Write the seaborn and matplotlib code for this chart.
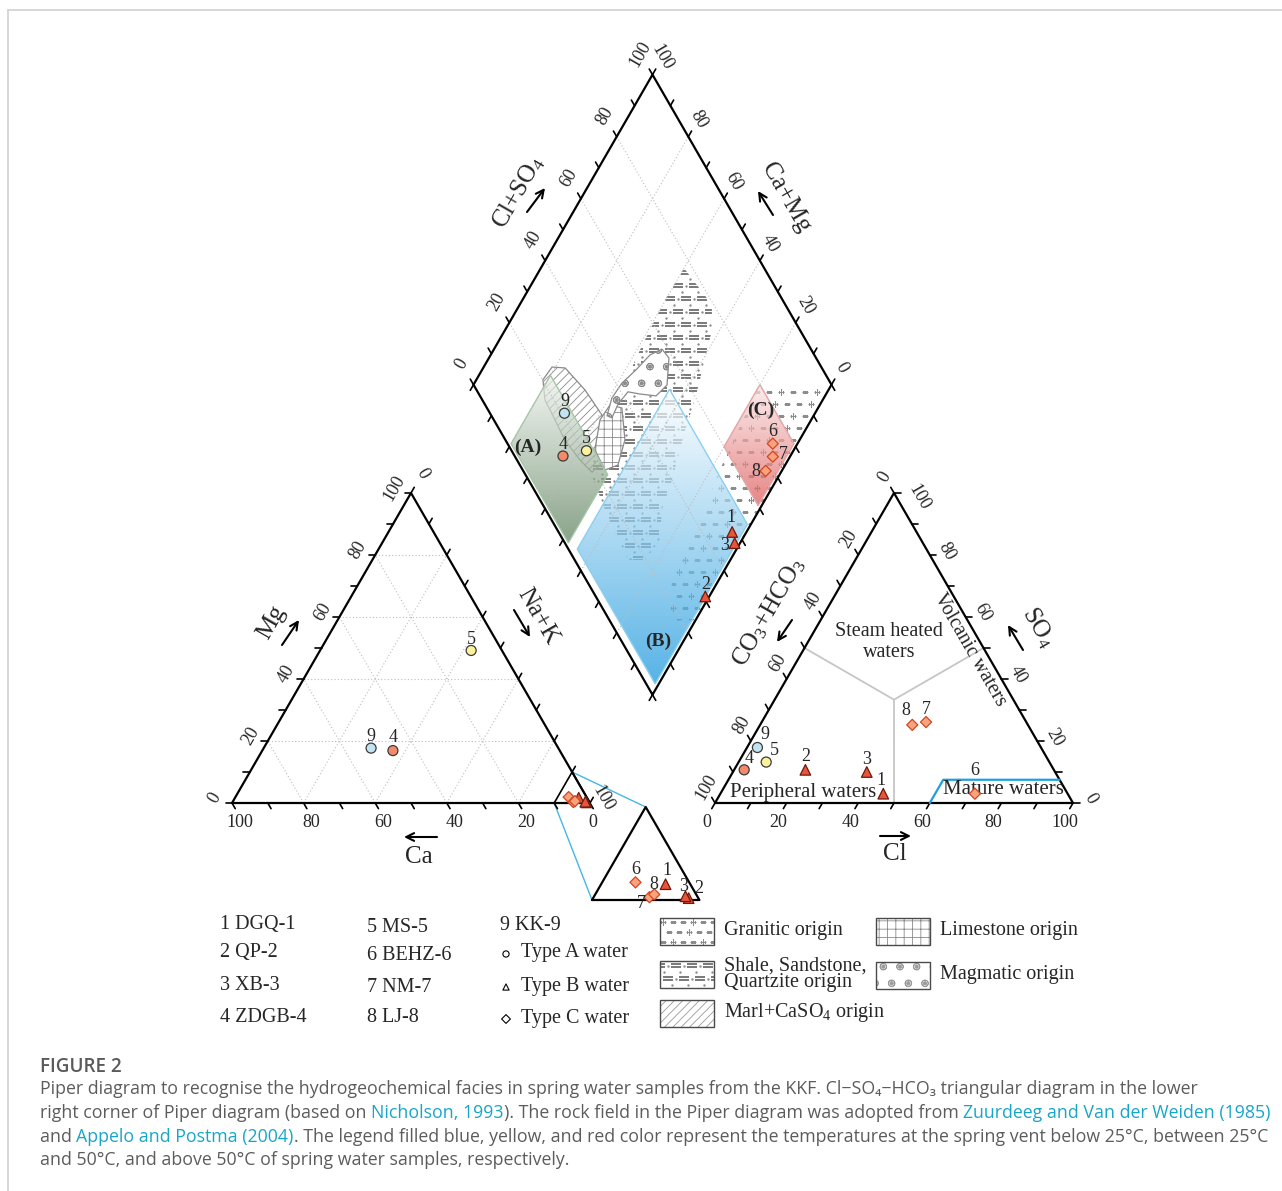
import numpy as np
import pandas as pd
import matplotlib
matplotlib.use("Agg")
import matplotlib.pyplot as plt
from matplotlib.patches import Polygon
from matplotlib.colors import LinearSegmentedColormap
import seaborn as sns

sns.set_theme(style="white")
SERIF = ["Liberation Serif", "DejaVu Serif"]
SANS = ["Open Sans", "DejaVu Sans"]
plt.rcParams["font.family"] = SERIF
plt.rcParams["mathtext.fontset"] = "custom"
plt.rcParams["mathtext.rm"] = "Liberation Serif"
plt.rcParams["mathtext.it"] = "Liberation Serif:italic"
plt.rcParams["mathtext.bf"] = "Liberation Serif:bold"
plt.rcParams["hatch.linewidth"] = 0.6

# ---------------- spring water samples (meq %) ----------------
sample_no = [1, 2, 3, 4, 5, 6, 7, 8, 9]
sample_name = ["DGQ-1", "QP-2", "XB-3", "ZDGB-4", "MS-5", "BEHZ-6", "NM-7", "LJ-8", "KK-9"]
water_type = ["B", "B", "B", "A", "A", "C", "C", "C", "A"]
vent_temp = ["above 50", "above 50", "above 50", "above 50", "25-50",
             "above 50", "above 50", "above 50", "below 25"]
ca_pct = [2.3, 0.9, 1.1, 46.6, 8.6, 5.0, 4.5, 3.9, 52.3]
mg_pct = [1.7, 0.2, 0.4, 16.9, 49.2, 1.9, 0.3, 0.6, 17.7]
cl_pct = [45.5, 19.9, 37.4, 2.8, 7.7, 71.1, 45.9, 42.5, 2.9]
so4_pct = [3.0, 10.7, 10.0, 10.7, 13.2, 3.0, 26.1, 25.2, 17.9]

tick_values = [0, 20, 40, 60, 80, 100]
grid_values = [20, 40, 60, 80]

df = pd.DataFrame({"no": sample_no, "name": sample_name, "wtype": water_type,
                   "temp": vent_temp, "Ca": ca_pct, "Mg": mg_pct,
                   "Cl": cl_pct, "SO4": so4_pct})
df["NaK"] = 100 - df["Ca"] - df["Mg"]
df["HCO3"] = 100 - df["Cl"] - df["SO4"]
df["CaMg"] = df["Ca"] + df["Mg"]
df["ClSO4"] = df["Cl"] + df["SO4"]

# ---------------- canvas: one axes, one unit per pixel ----------------
fig = plt.figure(figsize=(12.82, 11.91), dpi=100)
ax = fig.add_axes([0, 0, 1, 1])
ax.set_xlim(0, 1282)
ax.set_ylim(1191, 0)
ax.axis("off")
renderer = fig.canvas.get_renderer()

# ---------------- Piper geometry ----------------
S = 358.0
H = S * np.sqrt(3) / 2
X0, Y0 = 232.0, 803.0
GAP = 125.0
X1 = X0 + S + GAP
XB, YB = X0 + S + GAP / 2, Y0 - GAP / 2 * np.sqrt(3)
INSET_X, INSET_Y, ZOOM = 592.0, 900.0, 3.0


def cat_xy(ca, mg):
    ca = np.asarray(ca, float); mg = np.asarray(mg, float)
    na = 100 - ca - mg
    return X0 + (na + mg / 2) / 100 * S, Y0 - mg / 100 * H


def an_xy(cl, so4):
    cl = np.asarray(cl, float); so4 = np.asarray(so4, float)
    return X1 + (cl + so4 / 2) / 100 * S, Y0 - so4 / 100 * H


def dia_xy(camg, clso4):
    camg = np.asarray(camg, float); clso4 = np.asarray(clso4, float)
    return XB + (clso4 - camg) / 100 * S / 2, YB - (camg + clso4) / 100 * H


def inset_xy(ca, mg):
    ca = np.asarray(ca, float); mg = np.asarray(mg, float)
    na = 100 - ca - mg
    return (INSET_X + ZOOM * (na - 90 + mg / 2) / 100 * S,
            INSET_Y - ZOOM * mg / 100 * H)


def pts(f, pairs):
    return np.array([f(a, b) for a, b in pairs], float)


df["cx"], df["cy"] = cat_xy(df["Ca"], df["Mg"])
df["ax_"], df["ay"] = an_xy(df["Cl"], df["SO4"])
df["dx"], df["dy"] = dia_xy(df["CaMg"], df["ClSO4"])
df["ix"], df["iy"] = inset_xy(df["Ca"], df["Mg"])

LINE = dict(color="black", lw=1.6, zorder=4, solid_capstyle="round")
GRID = dict(color="#bdbdbd", lw=0.8, ls=(0, (1, 2)), zorder=3)

# ---------------- rock-field patterns and facies fields (diamond) ----------------
shale_field = [(60.0, 77.6), (46.3, 79.5), (42.2, 75.4), (35.7, 59.4), (33.6, 51.8),
               (29.2, 40.1), (27.2, 32.5), (22.9, 27.0), (23.8, 19.7), (28.6, 14.9),
               (43.0, 16.5), (53.7, 18.8), (55.8, 26.4), (57.4, 37.6), (59.1, 52.1),
               (60.2, 67.1)]
magmatic_field = [(59.2, 36.5), (58.8, 41.7), (57.0, 47.8), (55.5, 54.1), (53.1, 58.4),
                  (49.7, 58.9), (45.9, 54.0), (47.2, 49.2), (52.0, 45.0), (55.7, 42.0),
                  (56.5, 37.3), (56.0, 33.3), (57.7, 32.3)]
marl_field = [(81.4, 20.2), (80.9, 24.8), (77.1, 28.3), (68.0, 30.3), (59.2, 31.0),
              (54.9, 27.3), (51.7, 22.4), (52.8, 19.0), (58.1, 17.6), (65.5, 16.6),
              (71.6, 17.1), (77.6, 17.5)]
limestone_field = [(59.0, 29.7), (58.6, 34.9), (54.8, 37.7), (48.8, 33.4), (46.7, 27.4),
                   (49.5, 23.0), (55.6, 23.4)]
granitic_field = [(0, 24), (7, 17), (14, 25), (15, 40), (18, 59), (20, 79), (1, 98), (0, 98)]
field_A = [(80, 1), (80, 23), (48, 23), (48, 1)]
field_B = [(1, 2.5), (44.5, 2.5), (44.5, 54), (1, 54)]
field_C = [(1, 60), (20, 60), (20, 80), (1, 80)]


def clip_polygon(xy, z, face="none", edge="none", lw=0.0, hatch=None):
    p = Polygon(xy, closed=True, facecolor=face, edgecolor=edge, lw=lw, zorder=z, hatch=hatch)
    ax.add_patch(p)
    return p


def shale_pattern(xy, z):
    clip = clip_polygon(xy, z)
    x0, y0 = xy.min(0); x1, y1 = xy.max(0)
    for i, y in enumerate(np.arange(y0 + 3, y1, 13.0)):
        xs = np.arange(x0 + (i % 2) * 8, x1 + 8, 16.0)
        for dy in (0.0, 3.0):
            sc = ax.scatter(xs, np.full(xs.shape, y + dy), marker="_", s=42,
                            color="#7c7c7c", linewidths=1.2, zorder=z)
            sc.set_clip_path(clip)
        for xx, yy in ((xs + 8, y + 1.5), (xs + 4, y + 8)):
            sc = ax.scatter(xx, np.full(xs.shape, yy), marker=".", s=2,
                            color="#8a8a8a", zorder=z)
            sc.set_clip_path(clip)


def granite_pattern(xy, z, step=12.0):
    clip = clip_polygon(xy, z)
    x0, y0 = xy.min(0); x1, y1 = xy.max(0)
    for i, y in enumerate(np.arange(y0 + 4, y1, step)):
        xs = np.arange(x0 + 3 + (i % 2) * 6, x1, step)
        plus = (np.arange(xs.size) + i) % 3 == 0
        for mk, sel in (("+", plus), ("_", ~plus)):
            if sel.any():
                sc = ax.scatter(xs[sel], np.full(sel.sum(), y), marker=mk, s=24,
                                color="#8c8c8c", linewidths=0.8, zorder=z)
                sc.set_clip_path(clip)


def gradient_region(xy, top, bottom, edge, z=2.0, alpha=0.72):
    clip = clip_polygon(xy, z)
    cmap = LinearSegmentedColormap.from_list("field", [top, bottom])
    grad = np.linspace(0, 1, 256)[:, None]
    im = ax.imshow(grad, cmap=cmap, origin="upper", aspect="auto", alpha=alpha,
                   extent=(xy[:, 0].min(), xy[:, 0].max(), xy[:, 1].max(), xy[:, 1].min()),
                   zorder=z, interpolation="bilinear")
    im.set_clip_path(clip)
    ax.add_patch(Polygon(xy, closed=True, facecolor="none", edgecolor=edge, lw=1.0, zorder=z + 0.5))


shale_pattern(pts(dia_xy, shale_field), 1.0)
granite_pattern(pts(dia_xy, granitic_field), 1.0)
clip_polygon(pts(dia_xy, marl_field), 1.4, face="none", edge="#8a8a8a", lw=0.9, hatch="////")
clip_polygon(pts(dia_xy, limestone_field), 1.5, face="white", edge="#8a8a8a", lw=0.9, hatch="++")
clip_polygon(pts(dia_xy, magmatic_field), 1.6, face="white", edge="#8a8a8a", lw=0.9, hatch="o.")

gradient_region(pts(dia_xy, field_A), "#eef3ee", "#5b7e5b", "#a4c8a4")
gradient_region(pts(dia_xy, field_B), "#ffffff", "#1595dd", "#8ccff0")
gradient_region(pts(dia_xy, field_C), "#fbe6e6", "#dc5656", "#f0a0a0")

# ---------------- grids ----------------
for v in grid_values:
    for a, b in (((100 - v, v), (0, v)), ((v, 0), (v, 100 - v)), ((100 - v, 0), (0, 100 - v))):
        p = pts(cat_xy, [a, b]); ax.plot(p[:, 0], p[:, 1], **GRID)
    for a, b in (((v, 0), (v, 100)), ((0, v), (100, v))):
        p = pts(dia_xy, [a, b]); ax.plot(p[:, 0], p[:, 1], **GRID)

# ---------------- outlines ----------------
for f, corners in ((cat_xy, [(100, 0), (0, 0), (0, 100), (100, 0)]),
                   (an_xy, [(0, 0), (100, 0), (0, 100), (0, 0)]),
                   (dia_xy, [(0, 0), (100, 0), (100, 100), (0, 100), (0, 0)])):
    p = pts(f, corners)
    ax.plot(p[:, 0], p[:, 1], **LINE)


def axis_edge(p_from, p_to, outward, labels, rot, dist, shift=(0, 0), tick=6.5, extra=None):
    p_from = np.asarray(p_from, float); p_to = np.asarray(p_to, float)
    d = np.asarray(outward, float); d = d / np.linalg.norm(d)
    extra = extra or {}
    for v in range(0, 101, 10):
        p = p_from + (p_to - p_from) * v / 100
        ax.plot([p[0], p[0] + d[0] * tick], [p[1], p[1] + d[1] * tick],
                color="black", lw=1.2, zorder=4)
    for v in labels:
        p = (p_from + (p_to - p_from) * v / 100 + d * dist + np.asarray(shift)
             + np.asarray(extra.get(v, (0, 0))))
        ax.text(p[0], p[1], str(v), rotation=rot, rotation_mode="anchor",
                ha="center", va="center", fontsize=13, zorder=5)


UP_L, UP_R = (-0.5, -0.866), (0.5, -0.866)
DN_L, DN_R = (-0.5, 0.866), (0.5, 0.866)
# cation triangle
axis_edge(cat_xy(0, 0), cat_xy(100, 0), DN_R, tick_values, 0, 23, (-3.5, 0), extra={0: (-5, 0)})
axis_edge(cat_xy(100, 0), cat_xy(0, 100), (-1, 0), tick_values, 60, 17, (0, -5))
axis_edge(cat_xy(0, 100), cat_xy(0, 0), UP_R, [0, 100], -60, 22, extra={100: (2, 14)})
# anion triangle
axis_edge(an_xy(0, 0), an_xy(100, 0), DN_L, tick_values, 0, 23, (3.5, 0))
axis_edge(an_xy(100, 0), an_xy(0, 100), (1, 0), tick_values, -60, 17, (0, -4), extra={100: (8, 8)})
axis_edge(an_xy(0, 100), an_xy(0, 0), UP_L, tick_values, 60, 18)
# diamond
axis_edge(dia_xy(100, 0), dia_xy(100, 100), UP_L, tick_values, 60, 24)
axis_edge(dia_xy(0, 100), dia_xy(100, 100), UP_R, tick_values, -60, 20)
axis_edge(dia_xy(0, 0), dia_xy(100, 0), DN_L, [], 0, 0)
axis_edge(dia_xy(0, 0), dia_xy(0, 100), DN_R, [], 0, 0)

# ---------------- Giggenbach fields in the anion triangle ----------------
centre = an_xy(100 / 3, 100 / 3)
for end in ((0, 50), (50, 50), (50, 0)):
    e = an_xy(*end)
    ax.plot([centre[0], e[0]], [centre[1], e[1]], color="#c6c6c6", lw=1.3, zorder=3)
mature = pts(an_xy, [(60, 0), (60, 7.5), (92.5, 7.5)])
ax.plot(mature[:, 0], mature[:, 1], color="#1f9fe0", lw=1.6, zorder=4)
ax.text(889, 642, "Steam heated\nwaters", ha="center", va="center", fontsize=14.5,
        linespacing=1.15, zorder=5)
ax.text(970, 650, "Volcanic waters", ha="center", va="center", fontsize=14.5,
        rotation=-60, rotation_mode="anchor", zorder=5)
ax.text(803, 793, "Peripheral waters", ha="center", va="center", fontsize=15, zorder=5)
ax.text(1003, 789, "Mature waters", ha="center", va="center", fontsize=15, zorder=5)

# ---------------- magnified Na+K corner ----------------
small = pts(cat_xy, [(10, 0), (0, 10), (0, 0)])
ax.plot(small[:, 0], small[:, 1], color="black", lw=1.2, zorder=4)
big = pts(inset_xy, [(10, 0), (0, 0), (0, 10), (10, 0)])
ax.plot(big[:, 0], big[:, 1], **LINE)
for a, b in ((small[1], big[2]), (small[0], big[0])):
    ax.plot([a[0], b[0]], [a[1], b[1]], color="#45b6e8", lw=1.0, zorder=3)

# ---------------- field labels ----------------
for txt, (x, y) in (("(A)", (528, 447)), ("(B)", (658, 641)), ("(C)", (761, 410))):
    ax.text(x, y, txt, fontsize=14, fontweight="bold", ha="center", va="center", zorder=5)

# ---------------- axis names ----------------
AXNAME = dict(fontsize=18, ha="center", va="center", rotation_mode="anchor", zorder=5)
ax.text(419, 857, "Ca", **AXNAME)
ax.text(271, 622, "Mg", rotation=60, **AXNAME)
ax.text(538, 617, "Na+K", rotation=-60, **AXNAME)
ax.text(518, 192, "Cl+SO$_4$", rotation=60, **AXNAME)
ax.text(786, 198, "Ca+Mg", rotation=-60, **AXNAME)
ax.text(769, 612, "CO$_3$+HCO$_3$", rotation=60, **AXNAME)
ax.text(1038, 627, "SO$_4$", rotation=-60, **AXNAME)
ax.text(895, 854, "Cl", **AXNAME)
for tail, head in (((437, 837), (404, 837)), ((282, 645), (299, 620)), ((514, 610), (530, 637)),
                   ((527, 212), (545, 188)), ((773, 215), (758, 191)), ((792, 620), (777, 642)),
                   ((1023, 650), (1008, 625)), ((880, 836), (911, 836))):
    ax.annotate("", xy=head, xytext=tail, zorder=5,
                arrowprops=dict(arrowstyle="->", lw=1.5, color="black", mutation_scale=14,
                                shrinkA=0, shrinkB=0))

# ---------------- samples ----------------
type_marker = {"A": "o", "B": "^", "C": "D"}
type_size = {"A": 52, "B": 58, "C": 32}
type_edge = {"A": "#3b3b3b", "B": "#6d1a0c", "C": "#d2461e"}
temp_face = {"below 25": "#c2e3f1", "25-50": "#fbf29b"}
hot_face = {"A": "#f48a69", "B": "#e8553a", "C": "#f8a37f"}
df["face"] = [hot_face[t] if c == "above 50" else temp_face[c]
              for t, c in zip(df["wtype"], df["temp"])]
palette = dict(zip(df["name"], df["face"]))


def plot_samples(data, xcol, ycol):
    for t, grp in data.groupby("wtype"):
        sns.scatterplot(data=grp, x=xcol, y=ycol, hue="name", palette=palette,
                        marker=type_marker[t], s=type_size[t], edgecolor=type_edge[t],
                        linewidth=0.9, legend=False, ax=ax, zorder=6)


corner = df[df["NaK"] > 90]
plot_samples(df, "cx", "cy")
plot_samples(df, "ax_", "ay")
plot_samples(df, "dx", "dy")
plot_samples(corner, "ix", "iy")

cat_lab = {4: (0, -13), 5: (0, -11), 9: (0, -12)}
an_lab = {1: (-2, -13), 2: (0, -13), 3: (0, -12), 4: (5, -11), 5: (8, -12),
          6: (0, -23), 7: (0, -13), 8: (-6, -14), 9: (7, -13)}
dia_lab = {1: (-1, -14), 2: (0, -12), 3: (-10, 2), 4: (0, -12), 5: (0, -12),
           6: (0, -12), 7: (11, -2), 8: (-10, 1), 9: (0, -12)}
inset_lab = {1: (1, -14), 2: (10, -10), 3: (-2, -10), 6: (0, -13), 7: (-8, 6), 8: (0, -10)}
for offs, xc, yc in ((cat_lab, "cx", "cy"), (an_lab, "ax_", "ay"),
                     (dia_lab, "dx", "dy"), (inset_lab, "ix", "iy")):
    for _, row in df.iterrows():
        if row["no"] in offs:
            ox, oy = offs[row["no"]]
            ax.text(row[xc] + ox, row[yc] + oy, str(row["no"]), fontsize=13,
                    ha="center", va="center", zorder=7)

# ---------------- legend ----------------
LEG = dict(fontsize=14.5, ha="left", va="center", zorder=5)
col1 = [f"{n} {s}" for n, s in zip(sample_no[:4], sample_name[:4])]
col2 = [f"{n} {s}" for n, s in zip(sample_no[4:8], sample_name[4:8])]
for txt, y in zip(col1, (925, 953, 986, 1018)):
    ax.text(220, y, txt, **LEG)
for txt, y in zip(col2, (927, 955, 987, 1018)):
    ax.text(367, y, txt, **LEG)
ax.text(500, 926, f"{sample_no[8]} {sample_name[8]}", **LEG)
for t, y in zip(("A", "B", "C"), (953, 986, 1018)):
    ax.scatter([506], [y + 1], marker=type_marker[t], s=20, facecolor="none",
               edgecolor="black", linewidths=0.8, zorder=5)
    ax.text(521, y, f"Type {t} water", **LEG)


def legend_box(x0, y0, x1, y1):
    return np.array([(x0, y0), (x1, y0), (x1, y1), (x0, y1)], float)


gbox = legend_box(660, 918, 714, 945)
granite_pattern(gbox, 4, step=10)
lbox = legend_box(876, 918, 930, 945)
clip_polygon(lbox, 4, face="white", edge="#8a8a8a", lw=0, hatch="++")
sbox = legend_box(660, 961, 714, 988)
shale_pattern(sbox, 4)
mbox = legend_box(876, 962, 930, 989)
clip_polygon(mbox, 4, face="white", edge="#9a9a9a", lw=0, hatch="o.")
kbox = legend_box(660, 1000, 714, 1027)
clip_polygon(kbox, 4, face="white", edge="#9a9a9a", lw=0, hatch="////")
for b in (gbox, lbox, sbox, mbox, kbox):
    ax.add_patch(Polygon(b, closed=True, facecolor="none", edgecolor="#4a4a4a", lw=1.0, zorder=5))
ax.text(724, 931, "Granitic origin", **LEG)
ax.text(940, 931, "Limestone origin", **LEG)
ax.text(724, 974, "Shale, Sandstone,\nQuartzite origin", linespacing=0.85, **LEG)
ax.text(940, 974, "Magmatic origin", **LEG)
ax.text(724, 1012, "Marl+CaSO$_4$ origin", **LEG)

# ---------------- card frame and caption ----------------
ax.plot([8, 1282], [10, 10], color="#d4d4d4", lw=1.3, zorder=0)
ax.plot([8, 8], [10, 1191], color="#d4d4d4", lw=1.3, zorder=0)

GRAY, LINK = "#5c5c5c", "#17a6c8"


def text_width(s, **kw):
    t = ax.text(0, 0, s + "|", **kw)
    w = t.get_window_extent(renderer).width
    t.remove()
    t = ax.text(0, 0, "|", **kw)
    w -= t.get_window_extent(renderer).width
    t.remove()
    return w


caption = [
    [("Piper diagram to recognise the hydrogeochemical facies in spring water samples from the "
      "KKF. Cl\u2212SO\u2084\u2212HCO\u2083 triangular diagram in the lower", GRAY)],
    [("right corner of Piper diagram (based on ", GRAY), ("Nicholson, 1993", LINK),
     ("). The rock field in the Piper diagram was adopted from ", GRAY),
     ("Zuurdeeg and Van der Weiden (1985)", LINK)],
    [("and ", GRAY), ("Appelo and Postma (2004)", LINK),
     (". The legend filled blue, yellow, and red color represent the temperatures at the "
      "spring vent below 25\u00b0C, between 25\u00b0C", GRAY)],
    [("and 50\u00b0C, and above 50\u00b0C of spring water samples, respectively.", GRAY)],
]
line_targets = [1180, 1222, 1223]
ratios = [t / text_width("".join(s for s, _ in caption[i]), fontsize=12, family=SANS)
          for i, t in enumerate(line_targets)]
cap_fs = 12 * float(np.mean(sorted(ratios)[:2]))

fig_fs = 14 * 82 / text_width("FIGURE 2", fontsize=14, family=SANS, fontweight="semibold")
ax.text(40, 1072, "FIGURE 2", fontsize=fig_fs, family=SANS, fontweight="semibold",
        color="#5a5a5a", ha="left", va="baseline")

for segs, y in zip(caption, (1094, 1118, 1142, 1165)):
    prefix = ""
    for s, col in segs:
        dx = text_width(prefix, fontsize=cap_fs, family=SANS) if prefix else 0.0
        ax.text(40 + dx, y, s, fontsize=cap_fs, family=SANS, color=col,
                ha="left", va="baseline")
        prefix += s

ax.set_xlim(0, 1282)
ax.set_ylim(1191, 0)
ax.axis("off")
fig.savefig("out.png", dpi=100, facecolor="white")
